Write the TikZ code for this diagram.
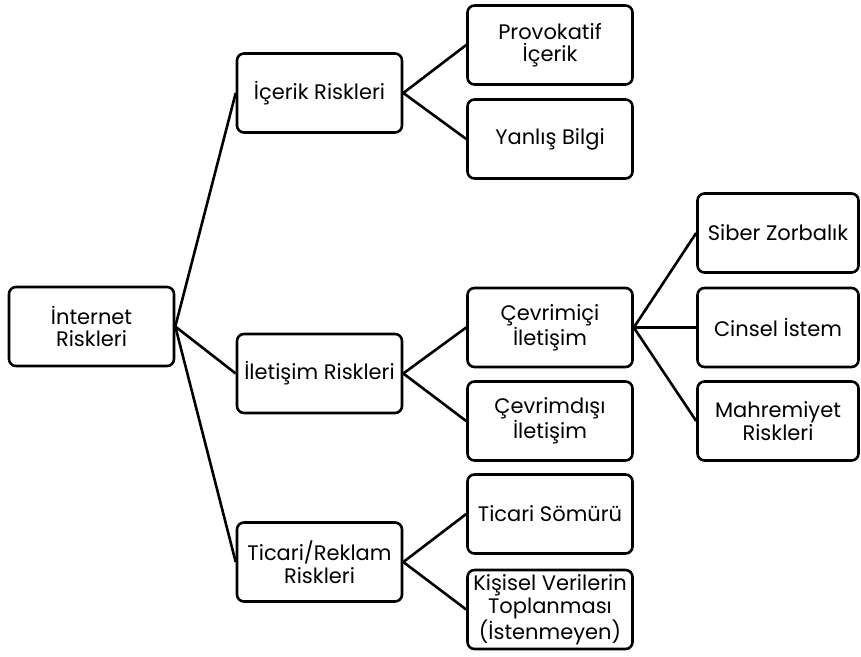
\documentclass[tikz,border=0pt]{standalone}
\usepackage{fontspec}
\setmainfont{Poppins}
\begin{document}
\begin{tikzpicture}[x=1pt,y=-1pt,line width=2.6pt,
  every node/.style={font=\fontsize{21}{22.5}\selectfont},
  box/.style={draw,rounded corners=7pt,minimum width=165pt,minimum height=79pt,align=center,inner sep=1pt}]
\useasboundingbox (0,0) rectangle (861,656);
\node[box] (inet) at (91.5,326.5) {İnternet\\Riskleri};
\node[box] (icerik) at (319.5,93) {İçerik Riskleri};
\node[box] (iletisim) at (319.5,373.5) {İletişim Riskleri};
\node[box] (ticari) at (319.5,562) {Ticari/Reklam\\Riskleri};
\node[box] (provo) at (550,45) {Provokatif\\İçerik};
\node[box] (yanlis) at (550,139) {Yanlış Bilgi};
\node[box] (cevrimici) at (550,327.5) {Çevrimiçi\\İletişim};
\node[box] (cevrimdisi) at (550,421) {Çevrimdışı\\İletişim};
\node[box] (somuru) at (550,514) {Ticari Sömürü};
\node[box] (kisisel) at (550,609.5) {Kişisel Verilerin\\Toplanması\\(İstenmeyen)};
\node[box,minimum width=161pt] (siber) at (778,233) {Siber Zorbalık};
\node[box,minimum width=161pt] (cinsel) at (778,327.5) {Cinsel İstem};
\node[box,minimum width=161pt] (mahrem) at (778,421) {Mahremiyet\\Riskleri};
\foreach \a/\b in {inet/icerik,inet/iletisim,inet/ticari,icerik/provo,icerik/yanlis,
  iletisim/cevrimici,iletisim/cevrimdisi,ticari/somuru,ticari/kisisel,
  cevrimici/siber,cevrimici/cinsel,cevrimici/mahrem}
  \draw (\a.east) -- (\b.west);
\end{tikzpicture}
\end{document}
